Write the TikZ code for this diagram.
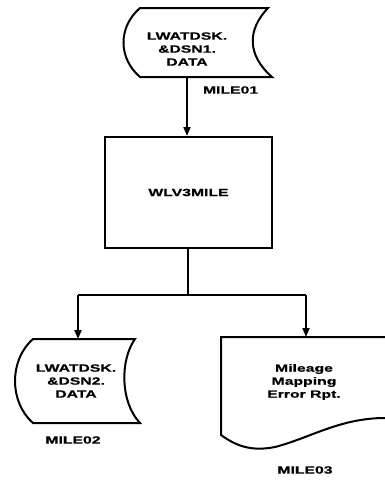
\documentclass[tikz,border=0pt]{standalone}
\usepackage{fontspec}
\newfontfamily\diafont[FakeStretch=1.5,BoldFeatures={FakeStretch=1.5,FakeBold=0.6}]{Liberation Sans}
\usetikzlibrary{arrows.meta}
\begin{document}
\begin{tikzpicture}[x=1pt,y=-1pt,line width=2pt,
  lbl/.style={font=\diafont\bfseries\fontsize{10.5}{13}\selectfont,align=center,inner sep=0pt},
  arr/.style={-{Triangle[length=9pt,width=7pt]}},
  procbox/.style={draw,minimum width=167pt,minimum height=111pt,inner sep=0pt}]
\fill[white] (0,0) rectangle (385,480);
\useasboundingbox (0,0) rectangle (385,480);
% input data 1
\draw (140,8) -- (268,8) .. controls (247,30) and (247,55) .. (272,77)
  -- (140,77) .. controls (118,58) and (118,27) .. cycle;
\node[lbl] (in1) at (187,49) {LWATDSK.\\\&DSN1.\\DATA};
\coordinate (in1b) at (187,77);
\node[lbl,anchor=west] (m1) at (202,90) {MILE01};
% process box
\node[procbox,lbl] (prog) at (188.5,192.5) {WLV3MILE};
\draw[arr] (in1b) -- (prog.north -| in1b);
% split
\coordinate (split) at (188,295);
\coordinate (sl) at (78,295);
\coordinate (sr) at (306,295);
\coordinate (in2t) at (78,339);
\coordinate (doct) at (306,337);
\draw (prog.south -| split) -- (split);
\draw (sl) -- (sr);
\draw[arr] (sl) -- (in2t);
\draw[arr] (sr) -- (doct);
% output data 2
\draw (33,339) -- (135,339) .. controls (120,360) and (120,402) .. (140,423)
  -- (33,423) .. controls (9,402) and (9,360) .. cycle;
\node[lbl] (in2) at (76,381) {LWATDSK.\\\&DSN2.\\DATA};
\node[lbl] (m2) at (73,440) {MILE02};
% report document
\draw (385,337) -- (221,337) -- (221,435)
  .. controls (235,445) and (250,452) .. (275,447)
  .. controls (310,438) and (340,418) .. (385,418);
\node[lbl] (doc) at (304,382) {Mileage\\Mapping\\Error Rpt.};
\node[lbl] (m3) at (305,470) {MILE03};
\end{tikzpicture}
\end{document}
